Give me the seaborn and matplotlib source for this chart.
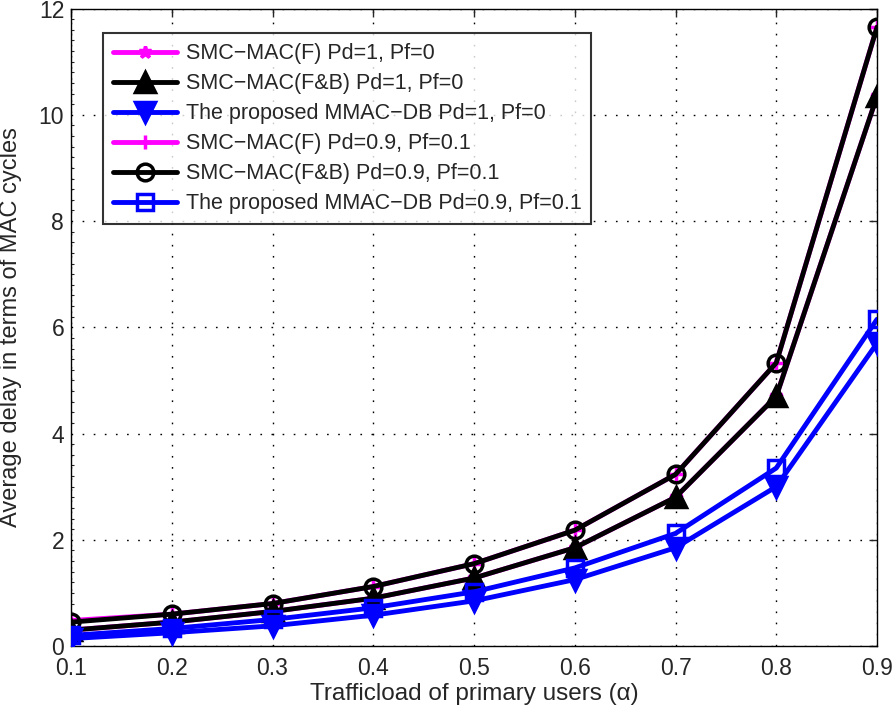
import matplotlib
matplotlib.use('Agg')
import matplotlib.pyplot as plt
from matplotlib.ticker import MultipleLocator
import pandas as pd
import seaborn as sns

# Data
load = [0.1, 0.2, 0.3, 0.4, 0.5, 0.6, 0.7, 0.8, 0.9]
f_pd1 = [0.30, 0.45, 0.65, 0.90, 1.28, 1.85, 2.80, 4.70, 10.35]
fb_pd1 = [0.30, 0.45, 0.65, 0.90, 1.28, 1.85, 2.80, 4.70, 10.35]
mmac_pd1 = [0.14, 0.25, 0.38, 0.58, 0.85, 1.25, 1.85, 3.00, 5.70]
f_pd09 = [0.48, 0.60, 0.80, 1.12, 1.55, 2.18, 3.23, 5.33, 11.65]
fb_pd09 = [0.45, 0.60, 0.80, 1.12, 1.55, 2.18, 3.23, 5.33, 11.65]
mmac_pd09 = [0.20, 0.33, 0.50, 0.72, 1.02, 1.47, 2.12, 3.35, 6.15]

labels = ['SMC\u2212MAC(F) Pd=1, Pf=0',
          'SMC\u2212MAC(F&B) Pd=1, Pf=0',
          'The proposed MMAC\u2212DB Pd=1, Pf=0',
          'SMC\u2212MAC(F) Pd=0.9, Pf=0.1',
          'SMC\u2212MAC(F&B) Pd=0.9, Pf=0.1',
          'The proposed MMAC\u2212DB Pd=0.9, Pf=0.1']
xtick_labels = ['0.1', '0.2', '0.3', '0.4', '0.5', '0.6', '0.7', '0.8', '0.9']

sns.set_style('white')
plt.rcParams['font.family'] = ['Liberation Sans', 'DejaVu Sans']

fig, ax = plt.subplots(figsize=(8.94, 7.11), dpi=100)
fig.subplots_adjust(left=0.0795, right=0.981, top=0.988, bottom=0.0914)

# (values, colour, marker, face colour, marker size, zorder)
series = [
    (f_pd1, 'magenta', '*', 'magenta', 9, 2),
    (fb_pd1, 'black', '^', 'black', 15, 3),
    (mmac_pd1, 'blue', 'v', 'blue', 15, 4),
    (f_pd09, 'magenta', '+', 'magenta', 10, 2),
    (fb_pd09, 'black', 'o', 'none', 12, 3),
    (mmac_pd09, 'blue', 's', 'none', 12, 4),
]
for (vals, col, mk, mfc, ms, z), lab in zip(series, labels):
    df = pd.DataFrame({'x': load, 'y': vals})
    sns.lineplot(data=df, x='x', y='y', ax=ax, color=col, marker=mk,
                 markerfacecolor=mfc, markeredgecolor=col, markersize=ms,
                 markeredgewidth=2.5, linewidth=3.5, label=lab, zorder=z)

ax.set_xlim(0.1, 0.9)
ax.set_ylim(0, 12)
ax.set_xticks(load)
ax.set_xticklabels(xtick_labels)
ax.set_yticks(range(0, 13, 2))
ax.yaxis.set_minor_locator(MultipleLocator(0.2))
ax.grid(True, which='major', linestyle=(0, (1.2, 6.8)), color='black', linewidth=1)
ax.tick_params(which='major', direction='in', length=6, labelsize=16.5, width=1,
               top=True, right=True)
ax.tick_params(which='minor', direction='in', length=2.5, width=0.8,
               left=True, right=False)
ax.tick_params(axis='x', pad=8)
ax.tick_params(axis='y', pad=5)
for s in ax.spines.values():
    s.set_color('black')
    s.set_linewidth(1)
ax.set_xlabel('Trafficload of primary users (\u03b1)', fontsize=17.5, labelpad=2)
ax.set_ylabel('Average delay in terms of MAC cycles', fontsize=17)
ax.yaxis.set_label_coords(-0.061, 0.5)

leg = ax.legend(loc='upper left', bbox_to_anchor=(0.0397, 0.961), fontsize=15.5,
                handlelength=3.0, handletextpad=0.4, frameon=True, fancybox=False,
                edgecolor='black', borderpad=0.45, labelspacing=0.42,
                borderaxespad=0)
leg.get_frame().set_linewidth(1.5)

fig.savefig('out.png', dpi=100)
